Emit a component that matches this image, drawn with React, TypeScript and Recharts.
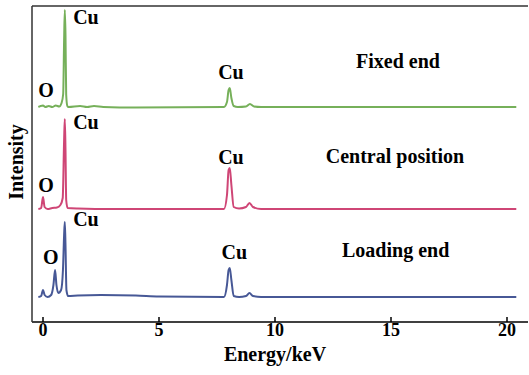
import React from 'react';
import { LineChart, Line, XAxis, YAxis, ReferenceDot } from 'recharts';

// Energy (keV) and stacked intensity (arbitrary units, offset per spectrum as drawn)
const fixedEnd = [
  [-0.2, 215], [-0.1, 216], [0.0, 216.5], [0.1, 215], [0.25, 216], [0.4, 215], [0.55, 216.5],
  [0.7, 215.5], [0.8, 219], [0.87, 228], [0.91, 282], [0.94, 312], [0.97, 287], [1.0, 227],
  [1.05, 216], [1.1, 215], [1.6, 216], [1.9, 215], [2.2, 216], [2.6, 215], [4.0, 214.5],
  [7.8, 215], [7.93, 220], [8.0, 232], [8.05, 234], [8.12, 224], [8.22, 216], [8.4, 215],
  [8.75, 215.5], [8.92, 218], [9.1, 215.5], [9.4, 215], [20.4, 215],
];
const centralPosition = [
  [-0.2, 113], [-0.08, 114], [0.0, 125], [0.07, 115], [0.2, 113], [0.4, 114], [0.6, 114.5],
  [0.75, 117], [0.85, 124], [0.91, 182], [0.94, 203], [0.97, 172], [1.0, 122], [1.06, 114],
  [1.5, 113.5], [3.0, 113], [7.8, 113], [7.93, 127], [8.0, 152], [8.05, 154], [8.12, 137],
  [8.22, 115], [8.45, 113.5], [8.75, 115], [8.9, 119], [9.05, 115], [9.4, 113], [20.4, 113],
];
const loadingEnd = [
  [-0.2, 25], [-0.08, 26], [0.0, 32], [0.07, 27], [0.2, 25], [0.35, 27], [0.45, 37], [0.52, 52],
  [0.58, 37], [0.66, 29], [0.78, 32], [0.86, 52], [0.91, 87], [0.94, 100], [0.97, 77], [1.01, 32],
  [1.08, 26], [1.5, 26.5], [2.5, 27], [4.0, 26.5], [5.0, 25.5], [7.8, 25], [7.93, 37], [8.0, 52],
  [8.05, 54], [8.12, 42], [8.22, 26], [8.45, 25], [8.75, 26], [8.9, 29], [9.05, 26], [9.4, 25],
  [20.4, 25],
];

const xTicks = [0, 5, 10, 15, 20];

// annotations: [energy, intensity, text]
const peakLabels: [number, number, string][] = [
  [1.85, 305, 'Cu'], [8.1, 250.5, 'Cu'], [0.13, 232, 'O'],
  [1.85, 200.5, 'Cu'], [8.1, 165.5, 'Cu'], [0.13, 137, 'O'],
  [1.85, 103.5, 'Cu'], [8.25, 70.5, 'Cu'], [0.34, 65.5, 'O'],
];
const seriesLabels: [number, number, string][] = [
  [15.3, 261, 'Fixed end'],
  [15.17, 166, 'Central position'],
  [15.2, 72, 'Loading end'],
];

const toRows = (arr: number[][]) => arr.map(([x, y]) => ({ x, y }));

const FONT = '"Liberation Serif", "Times New Roman", serif';

const CenterText = (text: string, size: number) => (props: any) => {
  const vb = props.viewBox || {};
  const cx = vb.x + (vb.width || 0) / 2;
  const cy = vb.y + (vb.height || 0) / 2;
  return (
    <text x={cx} y={cy} textAnchor="middle" dominantBaseline="central"
      style={{ fontFamily: FONT }} fontWeight="bold" fontSize={size} fill="#000">{text}</text>
  );
};

const XTick = (props: any) => {
  const { x, payload } = props;
  return (
    <text x={x} y={330} textAnchor="middle" dominantBaseline="central"
      style={{ fontFamily: FONT }} fontWeight="bold" fontSize={18} fill="#000">{payload.value}</text>
  );
};

export default function App() {
  return (
    <div style={{ position: 'absolute', left: 0, top: 0, background: '#fff' }}>
      <LineChart width={529} height={375} margin={{ top: 5, right: 1, bottom: 0, left: 31 }}>
        <XAxis xAxisId="b" type="number" dataKey="x" domain={[-0.474, 20.905]} ticks={xTicks}
          allowDataOverflow tick={<XTick />} tickSize={-5} stroke="#000" tickLine={{ stroke: '#000', strokeWidth: 1.5 }}
          axisLine={{ stroke: '#000', strokeWidth: 1.5 }} height={53} interval={0} />
        <XAxis xAxisId="t" orientation="top" type="number" dataKey="x" domain={[-0.474, 20.905]}
          allowDataOverflow tick={false} tickLine={false} height={1} stroke="#333"
          axisLine={{ stroke: '#333', strokeWidth: 1.5 }} />
        <YAxis yAxisId="l" type="number" domain={[0, 316]} allowDataOverflow tick={false} tickLine={false}
          width={1} stroke="#333" axisLine={{ stroke: '#333', strokeWidth: 1.5 }} />
        <Line xAxisId="b" yAxisId="l" data={toRows(fixedEnd)} dataKey="y" type="monotone" stroke="#76b05a"
          strokeWidth={2} dot={false} isAnimationActive={false} />
        <Line xAxisId="b" yAxisId="l" data={toRows(centralPosition)} dataKey="y" type="monotone" stroke="#cf4676"
          strokeWidth={2} dot={false} isAnimationActive={false} />
        <Line xAxisId="b" yAxisId="l" data={toRows(loadingEnd)} dataKey="y" type="monotone" stroke="#475896"
          strokeWidth={2} dot={false} isAnimationActive={false} />
        {peakLabels.map(([x, y, t], i) => (
          <ReferenceDot key={'p' + i} xAxisId="b" yAxisId="l" x={x} y={y} r={0} stroke="none" fill="none"
            label={CenterText(t, 20)} />
        ))}
        {seriesLabels.map(([x, y, t], i) => (
          <ReferenceDot key={'s' + i} xAxisId="b" yAxisId="l" x={x} y={y} r={0} stroke="none" fill="none"
            label={CenterText(t, 20)} />
        ))}
        <text x={16} y={162} transform="rotate(-90 16 162)" textAnchor="middle" dominantBaseline="central"
          style={{ fontFamily: FONT }} fontWeight="bold" fontSize={20} fill="#000">Intensity</text>
        <text x={275} y={354} textAnchor="middle" dominantBaseline="central"
          style={{ fontFamily: FONT }} fontWeight="bold" fontSize={20} fill="#000">Energy/keV</text>
      </LineChart>
    </div>
  );
}
